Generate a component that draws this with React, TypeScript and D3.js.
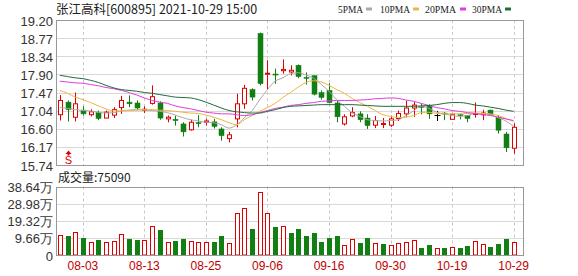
import React from "react";
import * as d3 from "d3";

const dates = [
  "07-29","07-30","08-02","08-03","08-04","08-05","08-06","08-09","08-10","08-11",
  "08-12","08-13","08-16","08-17","08-18","08-19","08-20","08-23","08-24","08-25",
  "08-26","08-27","08-30","08-31","09-01","09-02","09-03","09-06","09-07","09-08",
  "09-09","09-10","09-13","09-14","09-15","09-16","09-17","09-22","09-23","09-24",
  "09-27","09-28","09-29","09-30","10-08","10-11","10-12","10-13","10-14","10-15",
  "10-18","10-19","10-20","10-21","10-22","10-25","10-26","10-27","10-28","10-29",
];

const openP = [
  16.94,17.24,16.88,17.05,16.94,16.99,16.86,16.93,17.11,17.24,
  17.22,17.06,17.21,17.22,16.84,16.83,16.72,16.58,16.75,16.76,
  16.77,16.60,16.37,16.84,17.20,17.54,18.88,17.91,17.91,17.99,
  17.96,18.12,17.83,17.87,17.47,17.52,17.22,16.72,16.91,16.96,
  16.86,16.69,16.71,16.69,16.85,16.96,17.10,17.14,17.16,16.94,
  16.98,16.83,16.94,16.92,16.95,16.94,17.05,16.88,16.48,16.14,
];
const highP = [
  17.41,17.28,17.47,17.14,17.07,17.04,17.04,17.12,17.39,17.40,
  17.28,17.14,17.64,17.26,16.92,16.92,16.76,16.82,16.93,16.84,
  16.84,16.64,16.53,17.44,17.65,17.57,18.90,18.24,18.04,18.26,
  18.12,18.14,17.95,17.88,17.52,17.69,17.27,16.95,17.12,17.02,
  16.95,16.91,16.86,16.92,17.04,17.27,17.24,17.21,17.19,17.03,
  17.00,16.97,16.96,16.93,17.23,17.06,17.06,16.93,16.53,16.73,
];
const lowP = [
  16.80,16.78,16.78,16.92,16.90,16.81,16.86,16.86,16.96,17.12,
  17.05,16.98,17.18,16.82,16.76,16.68,16.42,16.56,16.64,16.68,
  16.61,16.32,16.28,16.64,17.08,17.28,17.64,17.54,17.68,17.92,
  17.88,17.81,17.66,17.40,17.30,17.21,16.76,16.68,16.88,16.76,
  16.60,16.62,16.62,16.65,16.79,16.89,16.89,16.95,16.84,16.79,
  16.81,16.82,16.83,16.76,16.87,16.81,16.93,16.49,16.05,16.01,
];
const closeP = [
  17.28,17.06,17.20,16.96,17.01,16.85,17.00,17.06,17.28,17.20,
  17.10,17.07,17.37,16.86,16.88,16.80,16.53,16.76,16.73,16.79,
  16.66,16.44,16.46,17.20,17.57,17.36,17.68,17.93,17.89,18.02,
  18.00,17.85,17.81,17.43,17.35,17.23,16.89,16.89,16.99,16.82,
  16.68,16.80,16.73,16.84,16.97,17.10,17.17,17.12,16.96,16.94,
  16.96,16.95,16.92,16.85,16.97,16.98,16.94,16.57,16.15,16.64,
];

const ma5 = [
  17.11,17.09,17.06,17.04,17.03,17.00,16.98,16.99,17.03,17.05,
  17.06,17.05,17.04,17.02,16.99,16.93,16.87,16.82,16.79,16.76,
  16.75,16.70,16.62,16.70,16.87,17.04,17.30,17.54,17.74,17.82,
  17.92,17.94,17.89,17.81,17.66,17.50,17.30,17.14,16.99,16.90,
  16.82,16.80,16.79,16.80,16.82,16.92,17.03,17.14,17.09,17.00,
  16.96,16.92,16.90,16.92,16.97,16.97,16.94,16.87,16.79,16.66,
];
const ma10 = [
  17.52,17.45,17.36,17.30,17.23,17.15,17.08,17.03,17.03,17.04,
  17.05,17.06,17.06,17.05,17.04,17.02,17.00,16.98,16.97,16.93,
  16.88,16.82,16.75,16.70,16.82,16.92,17.02,17.11,17.21,17.35,
  17.47,17.60,17.71,17.75,17.72,17.64,17.54,17.45,17.33,17.23,
  17.14,17.04,16.94,16.90,16.87,16.88,16.92,16.99,17.00,16.97,
  16.96,16.96,16.96,16.97,16.98,16.97,16.96,16.92,16.85,16.78,
];
const ma20 = [
  17.74,17.72,17.70,17.69,17.66,17.63,17.59,17.56,17.52,17.47,
  17.41,17.34,17.28,17.24,17.21,17.15,17.11,17.08,17.04,17.00,
  16.98,16.96,16.96,16.94,16.92,16.94,16.99,17.04,17.09,17.12,
  17.16,17.18,17.21,17.23,17.26,17.27,17.28,17.28,17.28,17.29,
  17.30,17.32,17.33,17.34,17.33,17.29,17.26,17.21,17.16,17.11,
  17.08,17.04,17.02,16.99,16.97,16.94,16.92,16.88,16.84,16.80,
];
const ma30 = [
  17.88,17.85,17.82,17.80,17.76,17.71,17.64,17.58,17.54,17.52,
  17.50,17.47,17.45,17.42,17.39,17.36,17.35,17.34,17.30,17.24,
  17.17,17.10,17.04,17.01,16.99,16.98,16.98,17.02,17.06,17.11,
  17.14,17.15,17.16,17.17,17.18,17.18,17.18,17.18,17.18,17.17,
  17.16,17.15,17.14,17.14,17.14,17.14,17.14,17.15,17.16,17.18,
  17.21,17.23,17.23,17.21,17.17,17.15,17.12,17.09,17.05,17.02,
];

// volume in 万
const volume = [
  11.2,10.6,12.7,9.7,7.1,8.4,7.1,7.7,11.6,9.0,
  8.4,8.4,16.2,14.0,7.1,7.7,9.0,7.8,7.1,7.1,
  7.1,10.6,6.5,23.9,26.7,14.6,35.8,23.9,15.7,16.1,
  12.3,14.6,10.6,12.3,7.3,9.5,10.6,5.6,9.0,6.7,
  9.5,6.7,6.2,5.6,6.5,7.1,8.2,3.9,5.6,3.9,
  3.9,4.5,3.9,5.0,7.8,6.2,4.5,6.2,9.0,7.509,
];
const volumeUp = [
  1,0,1,0,1,0,1,1,1,0,
  0,1,1,0,1,0,0,1,1,1,
  0,0,1,1,1,0,1,1,0,1,
  0,0,0,0,0,0,0,1,1,0,
  0,1,0,1,1,1,1,0,0,1,
  0,1,0,0,1,1,0,0,0,1,
];

const priceTicks = ["19.20","18.77","18.34","17.90","17.47","17.04","16.60","16.17","15.74"];
const volTicks = ["38.64万","28.98万","19.32万","9.66万","0"];
const xTicks = ["08-03","08-13","08-25","09-06","09-16","09-30","10-19","10-29"];
const signalIndex = 1;

const maSeries = [
  { name: "5PMA", values: ma5, color: "#a9a9a9" },
  { name: "10PMA", values: ma10, color: "#f0b53c" },
  { name: "20PMA", values: ma20, color: "#e03ce0" },
  { name: "30PMA", values: ma30, color: "#1e6b3c" },
];

const RED = "#e00000";
const GREEN = "#127f12";

export default function App() {
  const left = 56;
  const right = 523;
  const pTop = 20;
  const pBot = 165;
  const vTop = 186.5;
  const vBot = 255;

  const x = d3.scalePoint<string>().domain(dates).range([left, left + 60 * 7.69]).padding(0.5);
  const y = d3.scaleLinear().domain([15.74, 19.2]).range([pBot, pTop]);
  const vy = d3.scaleLinear().domain([0, 38.64]).range([vBot, vTop]);
  const cx = (i: number) => Math.round(x(dates[i]) as number) + 0.5;

  const lineGen = (vals: number[]) =>
    d3
      .line<number>()
      .x((_, i) => x(dates[i]) as number)
      .y((v) => y(v))
      .curve(d3.curveMonotoneX)(vals) || "";

  const font = "Arial, 'Liberation Sans', sans-serif";
  const cjk = "'Noto Sans CJK SC', sans-serif";

  const priceStep = (pBot - pTop) / (priceTicks.length - 1);
  const volStep = (vBot - vTop) / (volTicks.length - 1);

  return (
    <svg
      width={578}
      height={276}
      style={{ position: "absolute", left: 0, top: 0, background: "#fff" }}
      shapeRendering="auto"
    >
      <rect x={0} y={0} width={578} height={276} fill="#fff" />
      {/* title */}
      <text x={56} y={14} fontFamily={cjk} fontSize={12.5} fill="#222">
        张江高科[600895] 2021-10-29 15:00
      </text>
      {/* legend */}
      {maSeries.map((m, k) => {
        const xs = [338, 380, 425, 472][k];
        const tl = [25, 30, 31, 30][k];
        const rx = [366, 413, 460, 505][k];
        return (
          <g key={m.name}>
            <text
              x={xs}
              y={13}
              fontFamily="'Liberation Serif', 'DejaVu Serif', serif"
              fontSize={11}
              fill="#222"
              textLength={tl}
              lengthAdjust="spacingAndGlyphs"
            >
              {m.name}
            </text>
            <rect x={rx} y={7.5} width={6} height={3} fill={m.color} />
          </g>
        );
      })}

      {/* price grid */}
      {priceTicks.map((t, k) => {
        const yy = Math.round(pTop + k * priceStep) + 0.5;
        return (
          <g key={"pt" + t}>
            {k > 0 && k < priceTicks.length - 1 && (
              <line x1={left} x2={right} y1={yy} y2={yy} stroke="#d9d9d9" />
            )}
            <text x={53} y={pTop + k * priceStep + 5.5} textAnchor="end" fontFamily={font} fontSize={13} fill="#333">
              {t}
            </text>
          </g>
        );
      })}
      {/* volume grid */}
      {volTicks.map((t, k) => {
        const yy = Math.round(vTop + k * volStep) + 0.5;
        return (
          <g key={"vt" + t}>
            {k > 0 && k < volTicks.length - 1 && (
              <line x1={left} x2={right} y1={yy} y2={yy} stroke="#d9d9d9" />
            )}
            <text x={53} y={vTop + k * volStep + 5.5} textAnchor="end" fontFamily={font} fontSize={13} fill="#333">
              {t}
            </text>
          </g>
        );
      })}
      {/* vertical dashed */}
      {xTicks.map((t) => {
        const xx = Math.round(x(t) as number) + 0.5;
        return (
          <g key={"xt" + t}>
            <line x1={xx} x2={xx} y1={pTop} y2={pBot} stroke="#c8c8c8" strokeDasharray="3,3" />
            <line x1={xx} x2={xx} y1={vTop} y2={vBot} stroke="#c8c8c8" strokeDasharray="3,3" />
            <text x={x(t) as number} y={270} textAnchor="middle" fontFamily={font} fontSize={12} fill="#c00000">
              {t}
            </text>
          </g>
        );
      })}

      {/* candles */}
      {dates.map((d, i) => {
        const o = openP[i], c = closeP[i], h = highP[i], l = lowP[i];
        const xx = cx(i);
        const col = c > o ? RED : c < o ? GREEN : "#000";
        const yTop = y(Math.max(o, c));
        const yBot = y(Math.min(o, c));
        const bh = Math.max(1, yBot - yTop);
        return (
          <g key={"c" + d}>
            <line x1={xx} x2={xx} y1={y(h)} y2={y(l)} stroke={col} />
            {c === o ? (
              <line x1={xx - 3} x2={xx + 3} y1={Math.round(yTop) + 0.5} y2={Math.round(yTop) + 0.5} stroke={col} />
            ) : c > o ? (
              <rect x={xx - 2} y={yTop} width={4} height={bh} fill="#fff" stroke={col} />
            ) : (
              <rect x={xx - 2.5} y={yTop} width={5} height={bh} fill={col} stroke={col} strokeWidth={0.5} />
            )}
          </g>
        );
      })}

      {/* MA lines */}
      {maSeries.map((m) => (
        <path key={"ma" + m.name} d={lineGen(m.values)} fill="none" stroke={m.color} strokeWidth={1} />
      ))}

      {/* signal marker */}
      <g>
        <path
          d={`M${cx(signalIndex)},${150.5} l-3,3.5 h2 v1.5 h2 v-1.5 h2 z`}
          fill={RED}
        />
        <text x={cx(signalIndex)} y={164} textAnchor="middle" fontFamily={font} fontSize={11} fill={RED}>
          S
        </text>
      </g>

      {/* volume label */}
      <text x={58} y={182} fontFamily={cjk} fontSize={12} fill="#222">
        成交量:75090
      </text>

      {/* volume bars */}
      {dates.map((d, i) => {
        const xx = cx(i);
        const top = vy(volume[i]);
        const up = volumeUp[i] === 1;
        return up ? (
          <rect key={"v" + d} x={xx - 2} y={Math.round(top) + 0.5} width={4} height={vBot - Math.round(top) - 0.5} fill="#fff" stroke={RED} />
        ) : (
          <rect key={"v" + d} x={xx - 2.5} y={Math.round(top)} width={5} height={vBot - Math.round(top)} fill={GREEN} />
        );
      })}

      {/* borders */}
      <rect x={left + 0.5} y={pTop + 0.5} width={right - left} height={pBot - pTop} fill="none" stroke="#999" />
      <rect x={left + 0.5} y={Math.round(vTop) + 0.5} width={right - left} height={vBot - Math.round(vTop)} fill="none" stroke="#999" />
    </svg>
  );
}
